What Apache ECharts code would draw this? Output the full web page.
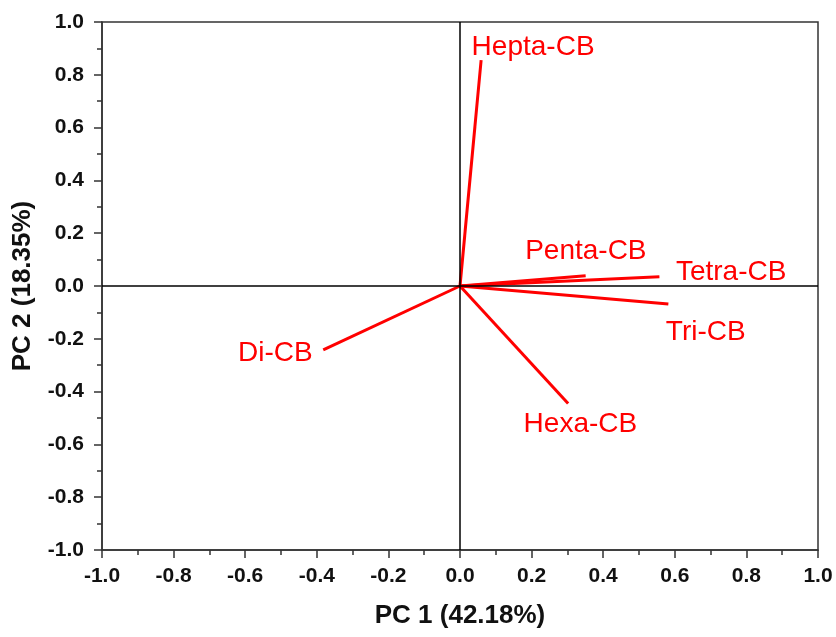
<!DOCTYPE html>
<html>
<head>
<meta charset="utf-8">
<script src="https://cdn.jsdelivr.net/npm/echarts@6/dist/echarts.min.js"></script>
<style>
  html, body { margin: 0; padding: 0; background: #fff; }
  #chart { width: 836px; height: 637px; }
</style>
</head>
<body>
<div id="chart"></div>
<script>
// PCA loading vectors: PC1 / PC2 coordinates of each congener group
const names = ['Hepta-CB', 'Penta-CB', 'Tetra-CB', 'Tri-CB', 'Di-CB', 'Hexa-CB'];
const pc1 = [0.059, 0.351, 0.557, 0.582, -0.382, 0.302];
const pc2 = [0.856, 0.039, 0.035, -0.068, -0.242, -0.445];
const axisTicks = [-1.0, -0.8, -0.6, -0.4, -0.2, 0.0, 0.2, 0.4, 0.6, 0.8, 1.0];

// label placement for each vector tip: [side, dx, dy]
const labelPlace = [
  ['right', -10, -13],
  ['right', -61, -24],
  ['right', 16, -4],
  ['right', -3, 28],
  ['left', -10, 3],
  ['right', -45, 21]
];

const FONT = '"Liberation Sans", Arial, sans-serif';
const RED = '#ff0000';

// one line segment from the origin to each loading
const series = names.map((n, i) => ({
  name: n,
  type: 'line',
  symbol: 'none',
  lineStyle: { color: RED, width: 3 },
  animation: false,
  data: [[0, 0], [pc1[i], pc2[i]]],
  z: 3
}));

// variable names at the vector tips
series.push({
  type: 'scatter',
  symbolSize: 1,
  itemStyle: { color: 'rgba(0,0,0,0)', opacity: 1 },
  animation: false,
  silent: true,
  data: names.map((n, i) => ({
    value: [pc1[i], pc2[i]],
    label: {
      show: true,
      formatter: n,
      position: labelPlace[i][0],
      distance: 0,
      offset: [labelPlace[i][1], labelPlace[i][2]],
      color: RED,
      opacity: 1,
      fontSize: 28,
      fontFamily: FONT
    }
  })),
  z: 4
});

// zero reference lines through the origin
series.push({
  type: 'line',
  data: [],
  silent: true,
  animation: false,
  markLine: {
    symbol: 'none',
    silent: true,
    label: { show: false },
    lineStyle: { color: '#000', width: 1.5, type: 'solid' },
    data: [{ xAxis: 0 }, { yAxis: 0 }]
  },
  z: 2
});

const axisCommon = {
  type: 'value',
  min: -1,
  max: 1,
  interval: 0.2,
  splitLine: { show: false },
  axisLine: { show: true, onZero: false, lineStyle: { color: '#333', width: 1.5 } },
  axisTick: { show: true, inside: false, length: 8, lineStyle: { color: '#333', width: 1.5 } },
  minorTick: { show: true, splitNumber: 2, length: 5, lineStyle: { color: '#333', width: 1.5 } },
  axisLabel: {
    color: '#111',
    fontSize: 21,
    fontWeight: 'bold',
    fontFamily: FONT,
    formatter: v => {
      const t = axisTicks.find(a => Math.abs(a - v) < 1e-9);
      return (t === undefined ? v : t).toFixed(1);
    }
  },
  nameTextStyle: { color: '#111', fontSize: 26, fontWeight: 'bold', fontFamily: FONT },
  nameLocation: 'middle'
};

const chart = echarts.init(document.getElementById('chart'), null, { renderer: 'canvas' });
chart.setOption({
  animation: false,
  backgroundColor: '#fff',
  grid: {
    left: 102, right: 18, top: 22, bottom: 87,
    show: true, borderColor: '#333', borderWidth: 1.5, containLabel: false
  },
  xAxis: Object.assign({}, axisCommon, {
    name: 'PC 1 (42.18%)',
    nameGap: 53,
    axisLabel: Object.assign({}, axisCommon.axisLabel, { margin: 16 })
  }),
  yAxis: Object.assign({}, axisCommon, {
    name: 'PC 2 (18.35%)',
    nameGap: 66,
    axisLabel: Object.assign({}, axisCommon.axisLabel, { margin: 18 })
  }),
  series: series
});
</script>
</body>
</html>
